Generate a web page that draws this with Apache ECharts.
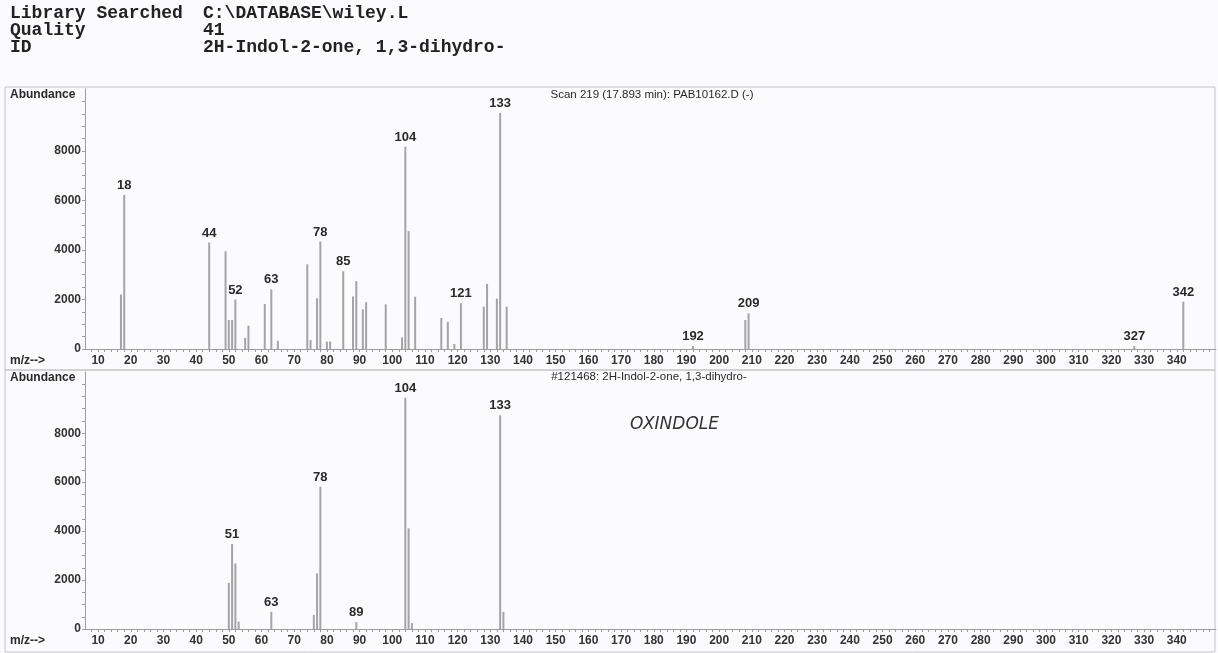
<!DOCTYPE html>
<html>
<head>
<meta charset="utf-8">
<script src="https://cdn.jsdelivr.net/npm/echarts@6/dist/echarts.min.js"></script>
<style>
  html, body { margin: 0; padding: 0; background: #fbfbfd; }
  #chart { width: 1218px; height: 653px; }
</style>
</head>
<body>
<div id="chart"></div>
<script>
// sample scan (upper panel)
const topMz = [17, 18, 44, 49, 50, 51, 52, 55, 56, 61, 63, 65, 74, 75, 77, 78, 80, 81, 85, 88, 89, 91, 92, 98, 103, 104, 105, 107, 115, 117, 119, 121, 128, 129, 132, 133, 135, 192, 208, 209, 327, 342]
const topAbund = [2200, 6220, 4300, 3950, 1170, 1170, 2000, 450, 940, 1820, 2410, 330, 3420, 360, 2050, 4340, 300, 300, 3140, 2120, 2740, 1600, 1890, 1800, 470, 8170, 4760, 2110, 1250, 1100, 200, 1850, 1710, 2630, 2030, 9530, 1710, 120, 1170, 1440, 120, 1910]
const topLabeled = [18, 44, 52, 63, 78, 85, 104, 121, 133, 192, 209, 327, 342]

// library spectrum (lower panel)
const botMz = [50, 51, 52, 53, 63, 76, 77, 78, 89, 104, 105, 106, 133, 134]
const botAbund = [1880, 3470, 2680, 300, 700, 570, 2270, 5810, 280, 9450, 4110, 240, 8730, 700]
const botLabeled = [51, 63, 78, 89, 104, 133]

const mzTicks = [10, 20, 30, 40, 50, 60, 70, 80, 90, 100, 110, 120, 130, 140, 150, 160, 170, 180, 190, 200, 210, 220, 230, 240, 250, 260, 270, 280, 290, 300, 310, 320, 330, 340]
const abundTicks = [0, 2000, 4000, 6000, 8000]

const headerRows = [
  ['Library Searched', 'C:\\DATABASE\\wiley.L'],
  ['Quality', '41'],
  ['ID', '2H-Indol-2-one, 1,3-dihydro-']
]
const topTitle = 'Scan 219 (17.893 min): PAB10162.D (-)'
const botTitle = '#121468: 2H-Indol-2-one, 1,3-dihydro-'
const note = 'OXINDOLE'

const chart = echarts.init(document.getElementById('chart'))

const textColor = '#2a2a2a'
const barColor = '#a4a4a8'
const axisColor = '#9c9ca0'

// minor ticks along the axes
const mzMinor = []
for (let v = 8; v <= 350; v += 2) mzMinor.push(v)
const abundMinor = []
for (let v = 0; v <= 10000; v += 500) abundMinor.push(v)

const buildBars = (mz, ab, labeled) => mz.map((m, i) => ({
  value: [m, ab[i]],
  label: { show: labeled.includes(m) }
}))

const xAxisBase = (gridIndex) => ({
  type: 'value',
  gridIndex,
  min: 6,
  max: 352,
  axisLine: { lineStyle: { color: axisColor, width: 1 } },
  axisTick: { show: true, customValues: mzMinor, length: 3, lineStyle: { color: axisColor } },
  axisLabel: {
    customValues: mzTicks,
    color: '#333',
    fontFamily: 'Arial, Liberation Sans',
    fontSize: 12,
    fontWeight: 'bold',
    margin: 6
  },
  splitLine: { show: false }
})

const yAxisBase = (gridIndex) => ({
  type: 'value',
  gridIndex,
  min: 0,
  max: 10500,
  axisLine: { show: true, lineStyle: { color: axisColor, width: 1 } },
  axisTick: { show: true, customValues: abundMinor, length: 3, lineStyle: { color: axisColor } },
  axisLabel: {
    customValues: abundTicks,
    formatter: (v) => String(v),
    color: '#333',
    fontFamily: 'Arial, Liberation Sans',
    fontSize: 12,
    fontWeight: 'bold',
    margin: 4
  },
  splitLine: { show: false }
})

const barSeries = (idx, data) => ({
  type: 'bar',
  xAxisIndex: idx,
  yAxisIndex: idx,
  data,
  barWidth: 2,
  itemStyle: { color: barColor },
  label: {
    position: 'top',
    distance: 3,
    color: textColor,
    fontFamily: 'Arial, Liberation Sans',
    fontSize: 13,
    fontWeight: 'bold',
    formatter: (p) => p.value[0]
  },
  silent: true,
  animation: false
})

const txt = (left, top, text, style) => ({
  type: 'text', left, top,
  style: Object.assign({ text, fill: textColor, font: 'bold 12px Arial, Liberation Sans' }, style)
})

const graphic = [
  { type: 'rect', shape: { x: 5, y: 87, width: 1210, height: 283 }, style: { fill: 'none', stroke: '#c4c4c8', lineWidth: 1 } },
  { type: 'rect', shape: { x: 5, y: 370, width: 1210, height: 282 }, style: { fill: 'none', stroke: '#c4c4c8', lineWidth: 1 } },
  txt(10, 89, 'Abundance'),
  txt(10, 355, 'm/z-->'),
  txt(10, 372, 'Abundance'),
  txt(10, 635, 'm/z-->'),
  { type: 'text', x: 652, y: 95, style: { text: topTitle, fill: textColor, font: '11.5px Arial, Liberation Sans', align: 'center', verticalAlign: 'middle' } },
  { type: 'text', x: 649, y: 377, style: { text: botTitle, fill: textColor, font: '11.5px Arial, Liberation Sans', align: 'center', verticalAlign: 'middle' } },
  { type: 'text', x: 630, y: 425, style: { text: note, fill: '#333', font: 'italic 17px DejaVu Sans', verticalAlign: 'middle' } }
]
headerRows.forEach((row, i) => {
  graphic.push({ type: 'text', x: 10, y: 13 + i * 17, style: { text: row[0], fill: '#222', font: 'bold 18px Courier New, Liberation Mono', verticalAlign: 'middle' } })
  graphic.push({ type: 'text', x: 203, y: 13 + i * 17, style: { text: row[1], fill: '#222', font: 'bold 18px Courier New, Liberation Mono', verticalAlign: 'middle' } })
})

const option = {
  backgroundColor: '#fbfbfd',
  animation: false,
  grid: [
    { left: 85, top: 89, width: 1131, height: 260 },
    { left: 85, top: 372, width: 1131, height: 257 }
  ],
  xAxis: [xAxisBase(0), xAxisBase(1)],
  yAxis: [yAxisBase(0), yAxisBase(1)],
  series: [
    barSeries(0, buildBars(topMz, topAbund, topLabeled)),
    barSeries(1, buildBars(botMz, botAbund, botLabeled))
  ],
  graphic
}

chart.setOption(option)
window.addEventListener('resize', () => chart.resize())
</script>
</body>
</html>
